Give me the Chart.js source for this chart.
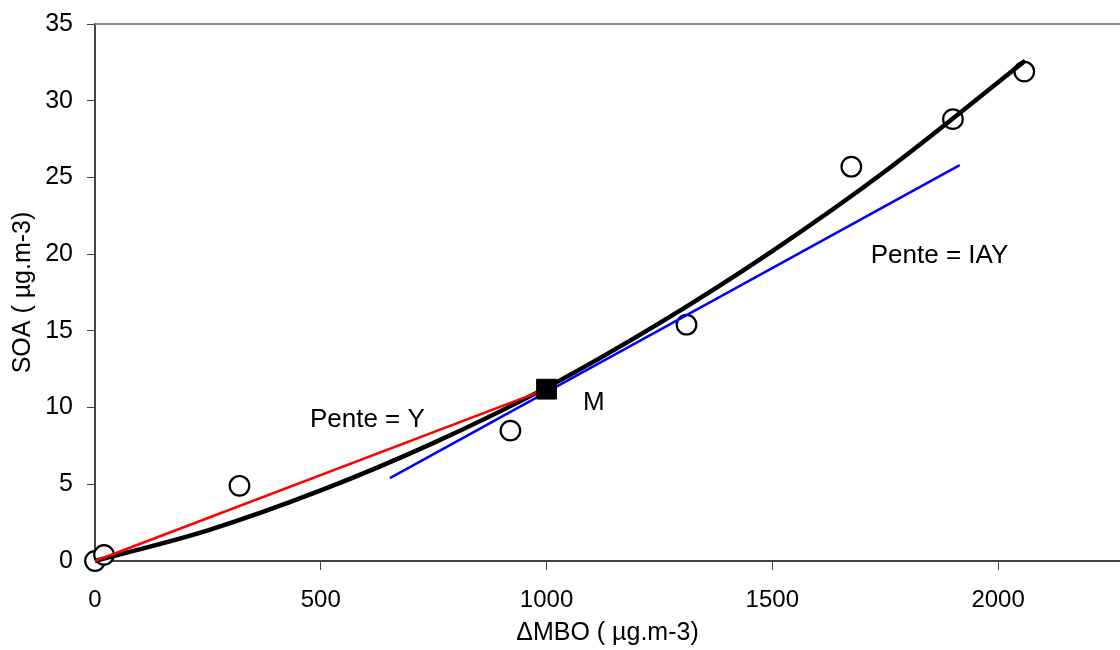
<!DOCTYPE html>
<html>
<head>
<meta charset="utf-8">
<script src="https://cdn.jsdelivr.net/npm/chart.js@4.4.1/dist/chart.umd.min.js"></script>
<style>
  html, body { margin: 0; padding: 0; background: #fff; }
  #wrap { width: 1120px; height: 650px; }
</style>
</head>
<body>
<div id="wrap"><canvas id="chart" width="1120" height="650"></canvas></div>
<script>
// mesures (cercles)
const mesuresX = [0, 20, 320, 920, 1310, 1675, 1900, 2058];
const mesuresY = [0, 0.4, 4.9, 8.5, 15.4, 25.7, 28.8, 31.9];

// courbe noire
const courbeX = [0, 250, 500, 750, 1000, 1250, 1500, 1750, 2060];
const courbeY = [0, 2.0, 4.6, 7.7, 11.3, 15.5, 20.2, 25.4, 32.6];

// pente Y (rouge) et pente IAY (bleu)
const penteYX = [0, 1000];
const penteYY = [0, 11.2];
const penteIAYX = [653, 1915];
const penteIAYY = [5.4, 25.8];

// point M
const pointMX = [1000];
const pointMY = [11.2];

// etiquettes
const etiquettes = ["Pente = IAY", "Pente = Y", "M"];
const etiquettesX = [1718, 476, 1081];
const etiquettesY = [19.9, 9.2, 10.3];

const xTicks = [0, 500, 1000, 1500, 2000];
const yTicks = [0, 5, 10, 15, 20, 25, 30, 35];

const FONT = "'Liberation Sans', Arial, sans-serif";

function pts(xs, ys) { return xs.map((x, i) => ({ x: x, y: ys[i] })); }

const decor = {
  id: 'decor',
  afterDatasetsDraw(chart) {
    const ctx = chart.ctx;
    const a = chart.chartArea;
    const sx = chart.scales.x, sy = chart.scales.y;
    ctx.save();
    ctx.strokeStyle = '#888';
    ctx.lineWidth = 2;
    ctx.beginPath();
    ctx.moveTo(a.left, a.top);
    ctx.lineTo(a.right, a.top);
    ctx.stroke();
    ctx.fillStyle = '#000';
    ctx.font = "26px " + FONT;
    ctx.textBaseline = 'middle';
    ctx.textAlign = 'left';
    etiquettes.forEach((t, i) => {
      ctx.fillText(t, sx.getPixelForValue(etiquettesX[i]), sy.getPixelForValue(etiquettesY[i]));
    });
    ctx.restore();
  }
};

new Chart(document.getElementById('chart').getContext('2d'), {
  type: 'scatter',
  data: {
    datasets: [
      {
        data: pts(pointMX, pointMY), clip: false,
        pointStyle: 'rect', pointRadius: 14,
        backgroundColor: '#000', borderColor: '#000', borderWidth: 1
      },
      {
        data: pts(penteYX, penteYY), showLine: true, clip: false,
        borderColor: '#ff0000', borderWidth: 2.5, pointRadius: 0
      },
      {
        data: pts(penteIAYX, penteIAYY), showLine: true, clip: false,
        borderColor: '#0000ff', borderWidth: 2.5, pointRadius: 0
      },
      {
        data: pts(courbeX, courbeY), showLine: true, clip: false,
        borderColor: '#000', borderWidth: 4.5, pointRadius: 0,
        cubicInterpolationMode: 'monotone'
      },
      {
        data: pts(mesuresX, mesuresY), clip: false,
        pointStyle: 'circle', pointRadius: 9.8,
        backgroundColor: '#fff', borderColor: '#000', borderWidth: 2.2
      }
    ]
  },
  options: {
    responsive: false,
    animation: false,
    layout: { autoPadding: false, padding: { top: 24, right: 0, left: 0, bottom: 0 } },
    plugins: { legend: { display: false }, tooltip: { enabled: false } },
    scales: {
      x: {
        type: 'linear', min: 0, max: 2270,
        afterBuildTicks: s => { s.ticks = xTicks.map(v => ({ value: v })); },
        afterFit: s => { s.height = 89; s.paddingLeft = 0; s.paddingRight = 0; },
        border: { color: '#444', width: 2 },
        grid: { drawOnChartArea: false, drawTicks: true, tickLength: 9, color: '#444' },
        ticks: { color: '#000', font: { family: FONT, size: 24 }, padding: 16, maxRotation: 0,
                 callback: v => String(v) },
        title: { display: true, text: '\u0394MBO ( \u00b5g.m-3)', color: '#000', font: { family: FONT, size: 25 }, padding: { top: 0, bottom: 2 } }
      },
      y: {
        min: 0, max: 35,
        afterBuildTicks: s => { s.ticks = yTicks.map(v => ({ value: v })); },
        afterFit: s => { s.width = 95; s.paddingTop = 0; s.paddingBottom = 0; },
        border: { color: '#444', width: 2 },
        grid: { drawOnChartArea: false, drawTicks: true, tickLength: 8, color: '#444' },
        ticks: { color: '#000', font: { family: FONT, size: 25 }, padding: 14,
                 callback: v => String(v) },
        title: { display: true, text: 'SOA ( \u00b5g.m-3)', color: '#000', font: { family: FONT, size: 25 }, padding: { top: 8, bottom: 4 } }
      }
    }
  },
  plugins: [decor]
});
</script>
</body>
</html>
